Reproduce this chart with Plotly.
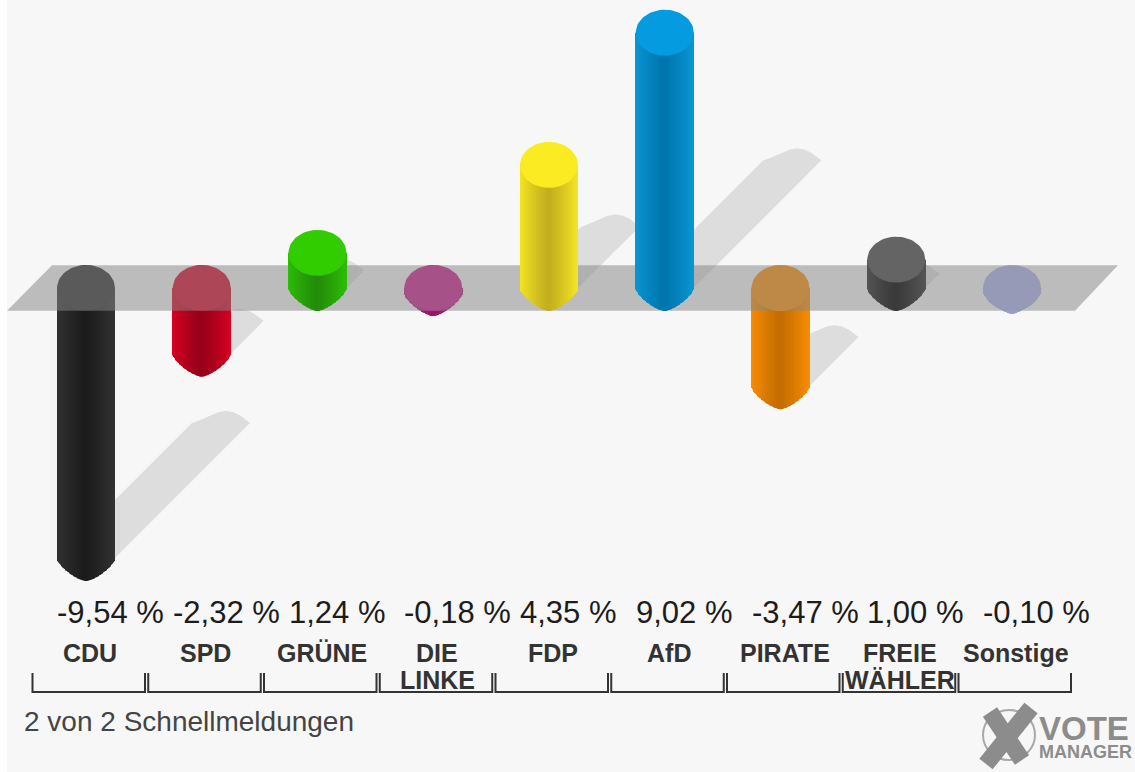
import numpy as np
import plotly.graph_objects as go

party_line1 = ["CDU", "SPD", "GRÜNE", "DIE", "FDP", "AfD", "PIRATE", "FREIE", "Sonstige"]
party_line2 = ["", "", "", "LINKE", "", "", "", "WÄHLER", ""]
values = [-9.54, -2.32, 1.24, -0.18, 4.35, 9.02, -3.47, 1.00, -0.10]
value_labels = ["-9,54 %", "-2,32 %", "1,24 %", "-0,18 %", "4,35 %", "9,02 %", "-3,47 %", "1,00 %", "-0,10 %"]
face_colors = [(42, 42, 42), (215, 0, 35), (50, 205, 0), (200, 25, 140), (250, 235, 35),
               (5, 155, 225), (250, 140, 0), (100, 100, 100), (170, 175, 235)]
edge_colors = [(50, 50, 50), (215, 0, 35), (45, 190, 5), (170, 30, 120), (245, 230, 35),
               (10, 150, 212), (250, 140, 0), (85, 85, 85), (170, 175, 235)]
center_colors = [(28, 28, 28), (150, 0, 25), (35, 140, 10), (150, 25, 105), (195, 175, 30),
                 (0, 118, 172), (195, 110, 0), (58, 58, 58), (150, 155, 215)]

W, H = 1135, 772
X0, DX = 86.0, 115.75      # pixel position of the first bar, pixels per category
Y0, DY = 288.0, 28.3       # pixel position of zero, pixels per unit
xr = [-X0 / DX, (W - X0) / DX]
yr = [(Y0 - H) / DY, Y0 / DY]
HALF = 29 / DX             # half bar width (x units)
CAP = 23 / DY              # cap height (y units)
K = DY / DX                # shear of the shadows


def rgb(c):
    return f"rgb({int(c[0])},{int(c[1])},{int(c[2])})"


def ellipse(cx, cy):
    th = np.linspace(0, 2 * np.pi, 73)
    return cx + HALF * np.cos(th), cy + CAP * np.sin(th)


fig = go.Figure()

# shadows, furthest back
for i, v in enumerate(values):
    start = min(v, 0)
    h = abs(v) / 2
    ex, ey = i + h * K, start + h
    u = np.linspace(0, 1, 41)
    xs = np.concatenate([[i - HALF], ex + (2 * u - 1) * HALF, [i + HALF]])
    ys = np.concatenate([[start], ey + 0.42 * np.sin(np.pi * u ** 1.3), [start]])
    fig.add_trace(go.Scatter(x=xs, y=ys, mode="lines", fill="toself", fillcolor="#dddddd",
                             line=dict(width=0), hoverinfo="skip", showlegend=False, yaxis="y"))

# cylinder bodies: vertical strips, one bar each
strips = np.arange(-28.4, 28.5, 0.8) / 29
strip_w = 1.2 / DX
neg = dict(x=[], base=[], y=[], color=[])
pos = dict(x=[], base=[], y=[], color=[])
for i, v in enumerate(values):
    for t in strips:
        f = abs(t) ** 1.2
        col = np.array(center_colors[i]) + (np.array(edge_colors[i]) - np.array(center_colors[i])) * f
        cap = CAP * (1 - abs(t) ** 1.4) ** (1 / 1.4)
        low = min(v, 0) - cap
        high = max(v, 0)
        d = neg if v < 0 else pos
        d["x"].append(i + t * HALF)
        d["base"].append(low)
        d["y"].append(high - low)
        d["color"].append(rgb(col))

fig.add_trace(go.Bar(x=neg["x"], y=neg["y"], base=neg["base"], width=strip_w,
                     marker=dict(color=neg["color"], line=dict(width=0)),
                     hoverinfo="skip", showlegend=False, yaxis="y2"))
for i, v in enumerate(values):
    if v < 0:
        ex, ey = ellipse(i, 0)
        fig.add_trace(go.Scatter(x=ex, y=ey, mode="lines", fill="toself", fillcolor=rgb(face_colors[i]),
                                 line=dict(width=0), hoverinfo="skip", showlegend=False, yaxis="y2"))

# translucent plane above the negative bars
fig.add_trace(go.Scatter(x=[-0.6825, -0.294, 8.916, 8.544, -0.6825], y=[-0.8, 0.8, 0.8, -0.8, -0.8],
                         mode="lines", fill="toself", fillcolor="rgba(135,135,135,0.52)",
                         line=dict(width=0), hoverinfo="skip", showlegend=False, yaxis="y2"))

# positive bars stand in front of the plane
fig.add_trace(go.Bar(x=pos["x"], y=pos["y"], base=pos["base"], width=strip_w,
                     marker=dict(color=pos["color"], line=dict(width=0)),
                     hoverinfo="skip", showlegend=False, yaxis="y3"))
for i, v in enumerate(values):
    if v > 0:
        ex, ey = ellipse(i, v)
        fig.add_trace(go.Scatter(x=ex, y=ey, mode="lines", fill="toself", fillcolor=rgb(face_colors[i]),
                                 line=dict(width=0), hoverinfo="skip", showlegend=False, yaxis="y3"))

# category brackets
bx, by = [], []
by_top, by_bot = (Y0 - 673) / DY, (Y0 - 692) / DY
for i in range(len(values)):
    bx += [i - 53.5 / DX, i - 53.5 / DX, i + 59 / DX, i + 59 / DX, None]
    by += [by_top, by_bot, by_bot, by_top, None]
fig.add_trace(go.Scatter(x=bx, y=by, mode="lines", line=dict(color="#333333", width=2),
                         hoverinfo="skip", showlegend=False, yaxis="y3"))

ann = []
for i, lab in enumerate(value_labels):
    ann.append(dict(x=i - HALF, y=(Y0 - 612) / DY, xref="x", yref="y3", text=lab, showarrow=False,
                    xanchor="left", yanchor="middle", xshift=-2,
                    font=dict(family="Liberation Sans", size=31, color="#1c1c1c")))
    ann.append(dict(x=i + 4 / DX, y=(Y0 - 653) / DY, xref="x", yref="y3", text=f"<b>{party_line1[i]}</b>",
                    showarrow=False, xanchor="center", yanchor="middle",
                    font=dict(family="Liberation Sans", size=25, color="#333333")))
    if party_line2[i]:
        ann.append(dict(x=i + 4 / DX, y=(Y0 - 680) / DY, xref="x", yref="y3", text=f"<b>{party_line2[i]}</b>",
                        showarrow=False, xanchor="center", yanchor="middle",
                        font=dict(family="Liberation Sans", size=25, color="#333333")))


def px(x):
    return x / W


def py(y):
    return 1 - y / H


ann.append(dict(x=px(22), y=py(721), xref="paper", yref="paper", text="2 von 2 Schnellmeldungen", showarrow=False,
                xanchor="left", yanchor="middle", font=dict(family="Liberation Sans", size=28, color="#444444")))
ann.append(dict(x=px(1037), y=py(728), xref="paper", yref="paper", text="<b>VOTE</b>", showarrow=False,
                xanchor="left", yanchor="middle", font=dict(family="Liberation Sans", size=33, color="#8c8c8c")))
ann.append(dict(x=px(1037), y=py(752), xref="paper", yref="paper", text="<b>MANAGER</b>", showarrow=False,
                xanchor="left", yanchor="middle", font=dict(family="Liberation Sans", size=18, color="#8c8c8c")))

shapes = [
    dict(type="rect", xref="paper", yref="paper", x0=px(7), x1=1, y0=0, y1=1, fillcolor="#f7f7f7",
         line=dict(width=0), layer="below"),
    dict(type="circle", xref="paper", yref="paper", x0=px(983), x1=px(1035), y0=py(760), y1=py(710),
         line=dict(color="#a8a8a8", width=2), layer="above"),
    dict(type="line", xref="paper", yref="paper", x0=px(990), y0=py(712), x1=px(1022), y1=py(760),
         line=dict(color="#8c8c8c", width=17), layer="above"),
    dict(type="line", xref="paper", yref="paper", x0=px(1031), y0=py(708), x1=px(986), y1=py(764),
         line=dict(color="#8c8c8c", width=17), layer="above"),
]

axis_off = dict(visible=False, fixedrange=True)
fig.update_layout(
    width=W, height=H, margin=dict(l=0, r=0, t=0, b=0, pad=0),
    paper_bgcolor="white", plot_bgcolor="rgba(0,0,0,0)",
    barmode="overlay", showlegend=False, annotations=ann, shapes=shapes,
    xaxis=dict(range=xr, **axis_off),
    yaxis=dict(range=yr, **axis_off),
    yaxis2=dict(range=yr, overlaying="y", **axis_off),
    yaxis3=dict(range=yr, overlaying="y", **axis_off),
)
fig.write_html("out.html", config=dict(displayModeBar=False),
               post_script="document.body.style.margin='0';document.body.style.overflow='hidden';")
